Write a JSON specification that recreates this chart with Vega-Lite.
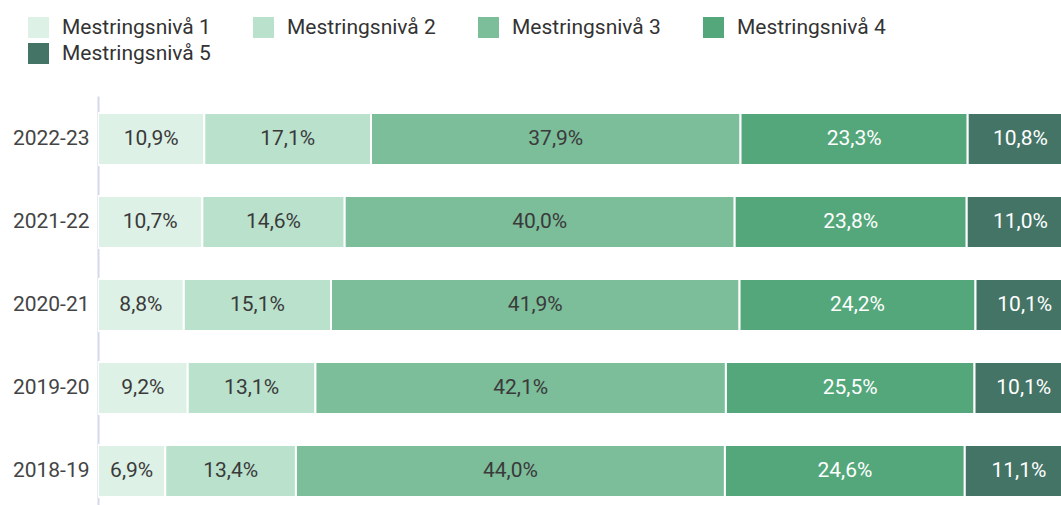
{
  "$schema": "https://vega.github.io/schema/vega-lite/v6.json",
  "width": 963,
  "height": 409,
  "autosize": {"type": "none"},
  "padding": {"left": 98, "top": 96, "right": 0, "bottom": 0},
  "background": "white",
  "config": {"view": {"stroke": null}, "font": "Roboto"},
  "data": {
    "values": [
      {"year": "2022-23", "level": "Mestringsnivå 1", "value": 10.9, "label": "10,9%"},
      {"year": "2022-23", "level": "Mestringsnivå 2", "value": 17.1, "label": "17,1%"},
      {"year": "2022-23", "level": "Mestringsnivå 3", "value": 37.9, "label": "37,9%"},
      {"year": "2022-23", "level": "Mestringsnivå 4", "value": 23.3, "label": "23,3%"},
      {"year": "2022-23", "level": "Mestringsnivå 5", "value": 10.8, "label": "10,8%"},
      {"year": "2021-22", "level": "Mestringsnivå 1", "value": 10.7, "label": "10,7%"},
      {"year": "2021-22", "level": "Mestringsnivå 2", "value": 14.6, "label": "14,6%"},
      {"year": "2021-22", "level": "Mestringsnivå 3", "value": 40.0, "label": "40,0%"},
      {"year": "2021-22", "level": "Mestringsnivå 4", "value": 23.8, "label": "23,8%"},
      {"year": "2021-22", "level": "Mestringsnivå 5", "value": 11.0, "label": "11,0%"},
      {"year": "2020-21", "level": "Mestringsnivå 1", "value": 8.8, "label": "8,8%"},
      {"year": "2020-21", "level": "Mestringsnivå 2", "value": 15.1, "label": "15,1%"},
      {"year": "2020-21", "level": "Mestringsnivå 3", "value": 41.9, "label": "41,9%"},
      {"year": "2020-21", "level": "Mestringsnivå 4", "value": 24.2, "label": "24,2%"},
      {"year": "2020-21", "level": "Mestringsnivå 5", "value": 10.1, "label": "10,1%"},
      {"year": "2019-20", "level": "Mestringsnivå 1", "value": 9.2, "label": "9,2%"},
      {"year": "2019-20", "level": "Mestringsnivå 2", "value": 13.1, "label": "13,1%"},
      {"year": "2019-20", "level": "Mestringsnivå 3", "value": 42.1, "label": "42,1%"},
      {"year": "2019-20", "level": "Mestringsnivå 4", "value": 25.5, "label": "25,5%"},
      {"year": "2019-20", "level": "Mestringsnivå 5", "value": 10.1, "label": "10,1%"},
      {"year": "2018-19", "level": "Mestringsnivå 1", "value": 6.9, "label": "6,9%"},
      {"year": "2018-19", "level": "Mestringsnivå 2", "value": 13.4, "label": "13,4%"},
      {"year": "2018-19", "level": "Mestringsnivå 3", "value": 44.0, "label": "44,0%"},
      {"year": "2018-19", "level": "Mestringsnivå 4", "value": 24.6, "label": "24,6%"},
      {"year": "2018-19", "level": "Mestringsnivå 5", "value": 11.1, "label": "11,1%"}
    ]
  },
  "encoding": {
    "y": {
      "field": "year",
      "type": "nominal",
      "sort": ["2022-23", "2021-22", "2020-21", "2019-20", "2018-19"],
      "title": null,
      "scale": {"paddingInner": 0.373, "paddingOuter": 0.15, "align": 0.68},
      "axis": {
        "domainColor": "#d3d9ec",
        "domainWidth": 2,
        "ticks": false,
        "grid": false,
        "labelFontSize": 21,
        "labelFont": "Roboto",
        "labelColor": "#444444",
        "labelPadding": 9
      }
    },
    "order": {"field": "level", "type": "ordinal"}
  },
  "layer": [
    {
      "mark": {"type": "bar", "stroke": "white", "strokeWidth": 2, "clip": true},
      "encoding": {
        "x": {
          "field": "value",
          "type": "quantitative",
          "stack": "zero",
          "scale": {"domain": [0, 98.77], "nice": false, "zero": true},
          "axis": null
        },
        "color": {
          "field": "level",
          "type": "nominal",
          "scale": {
            "domain": ["Mestringsnivå 1", "Mestringsnivå 2", "Mestringsnivå 3", "Mestringsnivå 4", "Mestringsnivå 5"],
            "range": ["#ddf1e6", "#b9e1cc", "#7cbd9a", "#53a77a", "#447466"]
          },
          "legend": {
            "orient": "none",
            "legendX": -70,
            "legendY": -79,
            "title": null,
            "columns": 4,
            "direction": "horizontal",
            "symbolType": "square",
            "symbolSize": 441,
            "symbolStrokeWidth": 0,
            "symbolOpacity": 1,
            "labelFontSize": 21,
            "labelFont": "Roboto",
            "labelColor": "#333333",
            "labelOffset": 13,
            "rowPadding": 4,
            "columnPadding": 42,
            "labelLimit": 300,
            "padding": 0
          }
        }
      }
    },
    {
      "mark": {"type": "text", "fontSize": 21, "font": "Roboto", "clip": true, "align": "center", "baseline": "middle"},
      "encoding": {
        "x": {
          "field": "value",
          "type": "quantitative",
          "stack": "zero",
          "bandPosition": 0.5
        },
        "detail": {"field": "level", "type": "nominal"},
        "text": {"field": "label", "type": "nominal"},
        "color": {
          "condition": {
            "test": "datum.level === 'Mestringsnivå 4' || datum.level === 'Mestringsnivå 5'",
            "value": "#ffffff"
          },
          "value": "#3a3a3a"
        }
      }
    }
  ]
}
